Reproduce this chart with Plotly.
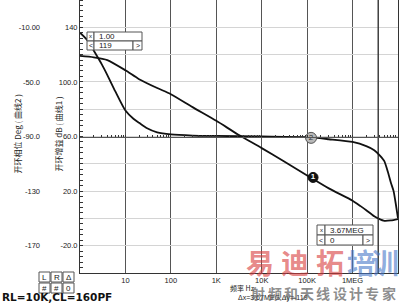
import plotly.graph_objects as go

# ---------------- data ----------------
freq_gain = [1, 2, 4, 10, 20, 50, 100, 300, 1e3, 3e3, 1e4, 3e4, 1e5, 3e5,
             1e6, 1.5e6, 2e6, 3e6, 3.67e6, 5e6, 7e6, 1e7]
gain_db = [119, 118, 116, 108.5, 102, 95.5, 91, 81.5, 71.5, 61.5, 51.5, 42,
           31.5, 22, 13, 9, 6, 1.5, 0, -1.8, -1.5, -0.5]

freq_phase = [1, 1.5, 2, 3, 4, 6, 10, 15, 20, 30, 50, 100, 300, 1e3, 1e4,
              1e5, 3e5, 1e6, 2e6, 3e6, 4e6, 5e6, 6e6, 7e6, 8e6, 9e6, 1e7]
phase_deg = [-14, -20, -27, -37, -45, -57, -71, -77, -80, -84, -87, -88.5,
             -89.3, -89.6, -90, -90.5, -92, -94, -97, -100, -104, -108, -116,
             -124, -130, -140, -150]

xtick_vals = [10, 100, 1e3, 1e4, 1e5, 1e6]
xtick_text = ["10", "100", "1K", "10K", "100K", "1MEG"]

gain_grid_vals = [-40, -20, 0, 20, 40, 60, 80, 100, 120, 140, 160]
gain_labels = {140: "140", 100: "100.0", 60: "60.0", 20: "20.0", -20: "-20.0"}
phase_tick_vals = [-10, -50, -90, -130, -170]
phase_tick_text = ["-10.00", "-50.0", "-90.0", "-130", "-170"]

gain_range = [-40, 160]
phase_range = [-190, 10]
ref_gain = 60                      # -90 deg reference line
cursor_freq = [1.0, 3.67e6]
cursor_vals = ["1.00", "3.67MEG"]
cursor_gain = ["119", "0"]
marker1 = (1.35e5, 30.0)           # on gain curve
marker2 = (1.22e5, -91.0)          # on phase curve

# ---------------- layout helpers ----------------
W, H = 400, 303
ML, MR, MT, MB = 0, 2, 0, 30
PW, PH = W - ML - MR, H - MT - MB


def px(x):
    return (x - ML) / PW


def py(y):
    return 1 - (y - MT) / PH


FONT = "Liberation Sans, Arial, sans-serif"
CJK = "Noto Sans CJK SC"

fig = go.Figure()

fig.add_trace(go.Scatter(x=freq_gain, y=gain_db, mode="lines",
                         line=dict(color="#111", width=1.8, shape="spline", smoothing=0.6),
                         showlegend=False, hoverinfo="skip"))
fig.add_trace(go.Scatter(x=freq_phase, y=phase_deg, mode="lines", yaxis="y2",
                         line=dict(color="#111", width=1.8, shape="spline", smoothing=0.6),
                         showlegend=False, hoverinfo="skip"))
# cursor line
fig.add_trace(go.Scatter(x=[cursor_freq[1]] * 2, y=gain_range, mode="lines",
                         line=dict(color="#333", width=1.4),
                         showlegend=False, hoverinfo="skip"))
# reference axis line with log minor ticks
fig.add_trace(go.Scatter(x=[1], y=[ref_gain], xaxis="x2", mode="none",
                         showlegend=False, hoverinfo="skip"))
# curve markers
fig.add_trace(go.Scatter(x=[marker1[0]], y=[marker1[1]], mode="markers+text",
                         text=["1"], textposition="middle center",
                         textfont=dict(color="white", size=8, family=FONT, weight="bold"),
                         marker=dict(size=10, color="#111", line=dict(color="#111", width=1)),
                         showlegend=False, hoverinfo="skip"))
fig.add_trace(go.Scatter(x=[marker2[0]], y=[marker2[1]], yaxis="y2", mode="markers+text",
                         text=["2"], textposition="middle center",
                         textfont=dict(color="#333", size=8, family=FONT),
                         marker=dict(size=11, color="#b8b8b8", line=dict(color="#555", width=1)),
                         showlegend=False, hoverinfo="skip"))

fig.update_layout(
    width=W, height=H,
    margin=dict(l=ML, r=MR, t=MT, b=MB),
    paper_bgcolor="white", plot_bgcolor="white",
    font=dict(family=FONT, size=7.5, color="#222"),
    xaxis=dict(type="log", range=[0, 7], domain=[80 / PW, 1],
               tickmode="array", tickvals=xtick_vals, ticktext=xtick_text,
               showgrid=True, gridcolor="#555", gridwidth=1,
               showline=True, linecolor="#333", linewidth=1, mirror=False,
               ticks="", zeroline=False, tickfont=dict(size=7.5)),
    xaxis2=dict(type="log", range=[0, 7], domain=[80 / PW, 1], overlaying="x",
                anchor="free", position=(ref_gain - gain_range[0]) / (gain_range[1] - gain_range[0]),
                tickmode="linear", dtick="D1", ticks="inside", ticklen=2, tickcolor="#333",
                showticklabels=False, showgrid=False, showline=True,
                linecolor="#555", linewidth=1, zeroline=False),
    yaxis=dict(range=gain_range, tickmode="array", tickvals=gain_grid_vals,
               ticktext=[gain_labels.get(v, "") for v in gain_grid_vals],
               showgrid=True, gridcolor="#d4d4d4", gridwidth=1,
               showline=True, linecolor="#333", linewidth=1, mirror=True,
               ticks="", zeroline=False, tickfont=dict(size=7.5),
               minor=dict(tickmode="linear", tick0=0, dtick=4, ticks="inside",
                          ticklen=3, tickcolor="#333", showgrid=False)),
    yaxis2=dict(range=phase_range, overlaying="y", anchor="free", side="left",
                position=40 / PW, tickmode="array", tickvals=phase_tick_vals,
                ticktext=phase_tick_text, showgrid=False, showline=False,
                ticks="", zeroline=False, tickfont=dict(size=7.5)),
)

shapes = []
annos = []


def cell(x0, x1, y0, y1, text, align="center", size=7.5, color="#222"):
    shapes.append(dict(type="rect", xref="paper", yref="paper",
                       x0=px(x0), x1=px(x1), y0=py(y1), y1=py(y0),
                       fillcolor="white", line=dict(color="#555", width=1), layer="above"))
    if align == "center":
        annos.append(dict(xref="paper", yref="paper", x=px((x0 + x1) / 2), y=py((y0 + y1) / 2),
                          text=text, showarrow=False, xanchor="center", yanchor="middle",
                          font=dict(size=size, color=color)))
    else:
        annos.append(dict(xref="paper", yref="paper", x=px(x0 + 3), y=py((y0 + y1) / 2),
                          text=text, showarrow=False, xanchor="left", yanchor="middle",
                          font=dict(size=size, color=color)))


# cursor read-out boxes
cell(87, 94, 32, 41, "x", size=6)
cell(94, 142, 32, 41, cursor_vals[0], align="left", size=8)
cell(87, 94, 41, 50, "<", size=7)
cell(94, 133, 41, 50, cursor_gain[0], align="left", size=8)
cell(133, 142, 41, 50, ">", size=7)

cell(317, 325, 225, 235, "x", size=6)
cell(325, 373, 225, 235, cursor_vals[1], align="left", size=8)
cell(317, 325, 235, 245, "<", size=7)
cell(325, 363, 235, 245, cursor_gain[1], align="left", size=8)
cell(363, 373, 235, 245, ">", size=7)

# L R Δ table
for i, (t1, t2) in enumerate([("L", "#"), ("R", "#"), ("Δ", "0")]):
    x0 = 39 + i * 12
    cell(x0, x0 + 11, 272, 282, t1, size=8)
    cell(x0, x0 + 11, 283, 293, t2, size=8)

# axis titles
annos.append(dict(xref="paper", yref="paper", x=px(9), y=py(134), text="开环相位 Deg ( 曲线2 )",
                  textangle=-90, showarrow=False, font=dict(family=CJK, size=8, color="#222")))
annos.append(dict(xref="paper", yref="paper", x=px(50), y=py(134), text="开环增益 dB ( 曲线1 )",
                  textangle=-90, showarrow=False, font=dict(family=CJK, size=8, color="#222")))

# bottom texts
annos.append(dict(xref="paper", yref="paper", x=px(0), y=py(297), text="RL=10K,CL=160PF",
                  xanchor="left", yanchor="middle", showarrow=False,
                  font=dict(family="DejaVu Sans", size=10.5, color="#111", weight="bold")))
annos.append(dict(xref="paper", yref="paper", x=px(228), y=py(288), text="频率 Hz",
                  xanchor="left", yanchor="middle",
                  showarrow=False, font=dict(family=CJK, size=7, color="#222")))
annos.append(dict(xref="paper", yref="paper", x=px(236), y=py(298), text="Δx=3.67MEG Δy=-119",
                  xanchor="left", yanchor="middle",
                  showarrow=False, font=dict(size=7, color="#222")))

# watermark
wm_big = [("易", 260, "rgba(215,60,60,0.62)"), ("迪", 294.5, "rgba(215,60,60,0.62)"),
          ("拓", 330, "rgba(215,60,60,0.62)"), ("培", 360.5, "rgba(70,120,200,0.62)"),
          ("训", 385, "rgba(70,120,200,0.62)")]
for ch, cx, col in wm_big:
    annos.append(dict(xref="paper", yref="paper", x=px(cx), y=py(262), text=ch,
                      showarrow=False, xanchor="center", yanchor="middle",
                      font=dict(family=CJK, size=28, color=col, weight="bold")))
for i, ch in enumerate("射频和天线设计专家"):
    annos.append(dict(xref="paper", yref="paper", x=px(250 + 8.2 + 16.3 * i), y=py(293), text=ch,
                      showarrow=False, xanchor="center", yanchor="middle",
                      font=dict(family=CJK, size=14, color="rgba(90,90,90,0.7)", weight="bold")))

fig.update_layout(shapes=shapes, annotations=annos)
fig.write_html("out.html")
